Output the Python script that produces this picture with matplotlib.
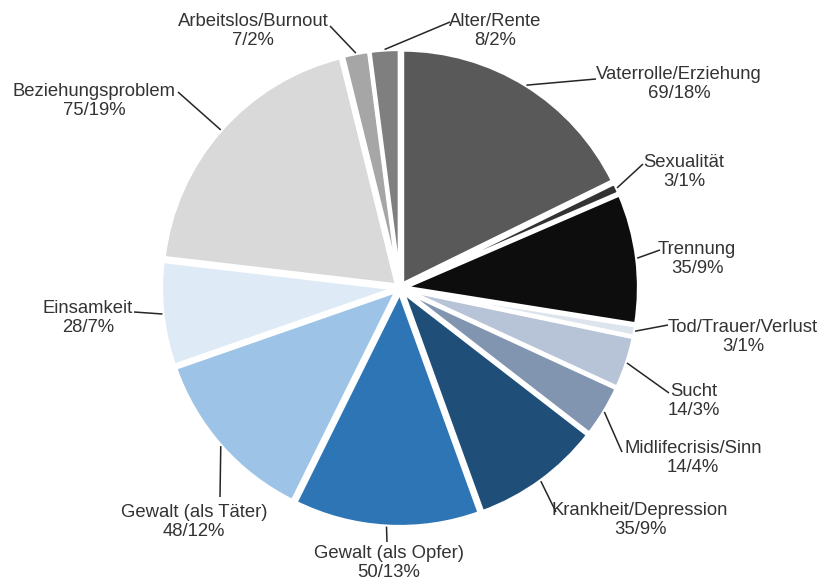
import numpy as np
import matplotlib.pyplot as plt

# data
labels = ['Vaterrolle/Erziehung', 'Sexualität', 'Trennung', 'Tod/Trauer/Verlust',
          'Sucht', 'Midlifecrisis/Sinn', 'Krankheit/Depression', 'Gewalt (als Opfer)',
          'Gewalt (als Täter)', 'Einsamkeit', 'Beziehungsproblem',
          'Arbeitslos/Burnout', 'Alter/Rente']
counts = [69, 3, 35, 3, 14, 14, 35, 50, 48, 28, 75, 7, 8]
percents = [18, 1, 9, 1, 3, 4, 9, 13, 12, 7, 19, 2, 2]

colors = ['#595959', '#333333', '#0d0d0d', '#dde4ee', '#b7c3d6', '#8194b0',
          '#1f4e79', '#2e75b6', '#9dc3e6', '#deebf7', '#d9d9d9', '#a6a6a6', '#7f7f7f']

# label layout in pixel coords (y from top): text centre, leader line end
text_pos = [(679, 84), (684, 172), (697, 259), (743, 337), (694, 401), (693, 458),
            (640, 520), (389, 563), (194, 522), (88, 318), (94, 101), (253, 31), (495, 31)]
line_end = [(596, 79), (643, 164), (660, 250), (668, 325), (669, 393), (622, 452),
            (556, 512), (387, 542), (220, 497), (134, 312), (178, 92), (330, 26), (450, 22)]

W, H = 820, 580
fig = plt.figure(figsize=(W / 100, H / 100), dpi=100)
ax = fig.add_axes([0, 0, 1, 1])

center = (400, 292)
radius = 235
wedges, _ = ax.pie(counts, colors=colors, startangle=90, counterclock=False,
                   center=center, radius=radius, explode=[4] * len(counts),
                   wedgeprops={'edgecolor': 'white', 'linewidth': 3},
                   frame=True)
ax.set_xlim(0, W)
ax.set_ylim(0, H)
ax.set_aspect('equal')
ax.axis('off')

for w, lab, c, p, tp, le in zip(wedges, labels, counts, percents, text_pos, line_end):
    ang = np.deg2rad((w.theta1 + w.theta2) / 2)
    x0 = w.center[0] + radius * np.cos(ang)
    y0 = w.center[1] + radius * np.sin(ang)
    ax.plot([x0, le[0]], [y0, H - le[1]], color='#262626', lw=1.1,
            solid_capstyle='butt')
    ax.text(tp[0], H - tp[1], f'{lab}\n{c}/{p}%', ha='center', va='center',
            fontsize=13.3, family='Liberation Sans', color='#333333',
            linespacing=1.12)

fig.savefig('out.png', dpi=100)
